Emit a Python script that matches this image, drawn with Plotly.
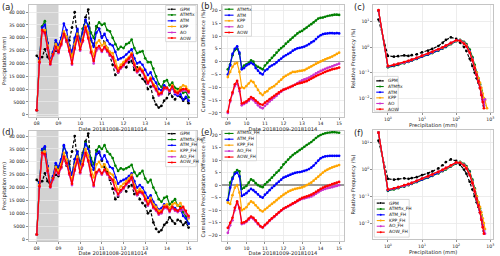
import plotly.graph_objects as go

W, H = 500, 256
FONT = "DejaVu Sans"

# ---------------- data ----------------
days_a = [8 + i / 8 for i in range(57)]   # 3-hourly, 08 -> 15
days_b = [9 + i / 8 for i in range(49)]   # 3-hourly, 09 -> 15
spinup = [8, 9]

# (a)/(d) precipitation, thousands of mm
gpm_k = [23, 21.8, 22.5, 25.5, 22.5, 21, 24, 25, 24.5, 28, 31.5, 28.5, 29, 34, 40, 30, 28, 33.5, 38, 41,
         29, 27, 34.5, 33.5, 30.5, 28, 26, 23, 19.5, 15.5, 16.5, 18.5, 20, 18.5, 20.5, 21, 17.5, 18.5, 15.5,
         14, 13, 10, 11, 6.5, 4, 2.8, 3.5, 5.5, 6.5, 8.5, 7, 6, 7.5, 7, 5.5, 6.5, 4.5]
atmfix_a = [1.8, 22, 34.5, 36.5, 28, 20.5, 24, 28, 26.5, 29, 31.5, 30.5, 27, 23.5, 29.5, 33, 28.5, 33.5, 36.5,
            35, 32, 30, 34.5, 36, 35, 35.5, 33, 32.5, 30, 27.5, 25.5, 26.5, 26, 27.5, 28, 29.3, 26, 24, 24.5,
            24.8, 22, 20.5, 20.5, 18, 15, 12, 10.8, 13, 13.5, 11.5, 12.5, 10.5, 10, 10.5, 8.5, 9, 6.8]
atm_a = [1.8, 22, 34, 35, 28, 21, 24.5, 29, 27, 30, 35.5, 33, 27, 24.5, 30, 33.5, 28, 32, 37, 34.5, 29.5, 26.5,
         32, 33.5, 30, 31.5, 29, 27.5, 27, 24.5, 21.5, 22, 22.5, 23.5, 24.5, 25.5, 22, 20, 20.5, 19.5, 17.5,
         15.5, 16.5, 14, 12.5, 10, 9.5, 11.5, 10.5, 9, 10.5, 8, 7.5, 8, 6, 7, 5.5]
kpp_a = [1.8, 21, 33, 33, 27, 20.5, 23.5, 27.5, 26, 28.5, 32.5, 30.5, 26, 22.5, 27.5, 31.5, 27, 30, 34.5, 32,
         26.5, 23, 28, 29, 27, 28, 26, 24.5, 24, 21, 18, 19.5, 20.5, 21.5, 22.5, 24, 20, 17.5, 18.5, 17.5, 15,
         13, 14.5, 12, 11, 8.5, 8.5, 10.5, 10.5, 9.5, 11.5, 9.5, 9, 10.5, 11.5, 11, 9.5]
ao_a = [1.8, 20, 32.5, 31.5, 25.5, 19.5, 23, 26, 24, 27, 31, 28.5, 24.5, 19.5, 25.5, 30, 25, 28.5, 33, 29.5, 24,
        20, 25, 26, 24.5, 26, 24.5, 23, 22, 18.5, 16.5, 18, 19, 20.5, 21.5, 23, 19, 16.5, 17.5, 16.5, 14, 12,
        13.5, 11, 9.5, 7.5, 8, 10, 10, 9, 10.5, 8.5, 8, 9, 9.5, 9.5, 8.5]
aow_a = [1.8, 20.5, 33, 32, 26, 19.8, 23.5, 26.5, 24.5, 27.5, 31.5, 29, 25, 20, 26, 30.5, 25.5, 29, 34, 30, 24.5,
         21, 26, 26.8, 25, 26.5, 25, 23.5, 22.5, 19, 17, 18.5, 19.5, 21, 22, 23.5, 19.5, 17, 18, 17, 14.5, 12.5,
         14, 11.5, 10, 8, 8.5, 10.5, 10.5, 9.5, 11, 9, 8.5, 9.5, 10, 10, 9]

atmfix_d = [1.8, 22, 34.5, 35.5, 28, 20.5, 24, 28.5, 27.5, 30.5, 36, 33.5, 28, 25, 31, 34, 29.5, 33, 37.5, 35.5,
            31.5, 29, 34.5, 36, 35, 36.5, 34, 33, 31.5, 28.5, 26.5, 27.5, 27, 27.5, 28, 28.8, 26, 24.5, 25.5,
            26.5, 23.5, 22, 23, 20, 18, 15.5, 14.5, 16, 16.5, 13.5, 14.5, 15.5, 13, 12.5, 10.5, 9, 6]
atm_d = [1.8, 22, 35, 36, 28.5, 21, 24.5, 29.5, 28, 31, 36.5, 33.5, 27.5, 25, 31, 34, 28.5, 32.5, 37, 35, 30, 27,
         33, 34, 31, 32.5, 30, 28, 27.5, 24, 21.5, 22.5, 23, 23.5, 24.5, 25.5, 22.5, 20, 21, 20, 18, 16, 17,
         14.5, 13, 11.5, 12, 13.5, 13, 11.5, 12.5, 12, 11, 11.5, 9, 8, 6]
kpp_d = [1.8, 21, 33.5, 34, 27.5, 20.5, 23.5, 28, 26.5, 29, 33.5, 31, 26, 23, 28.5, 32, 27.5, 30.5, 35, 32.5, 27,
         24, 29, 30, 28, 29, 27, 25.5, 25, 22, 19, 20.5, 21.5, 22.5, 23.5, 25, 21, 18.5, 19.5, 18.5, 16.5, 14.5,
         16, 13.5, 12.5, 11, 11, 13, 13.5, 12, 13.5, 14, 13, 14, 12, 10, 8]
ao_d = [1.8, 20, 33, 32.5, 26, 20, 23, 26.5, 25, 27.5, 31.5, 29, 25, 21, 26.5, 30.5, 25.5, 28.5, 33, 30, 24.5,
        20.5, 25.5, 26.5, 25, 26.5, 25, 23.5, 22.5, 19, 17, 18.5, 19.5, 21, 22, 23.5, 19.5, 17, 18, 17.5, 15, 13,
        14.5, 12, 11, 9.5, 10, 12, 12, 10.5, 12, 11, 10.5, 11, 11.5, 10, 8.5]
aow_d = [1.8, 20.5, 33.5, 33, 26.5, 20.3, 23.5, 27, 25.5, 28, 32, 29.5, 25.5, 21.5, 27, 31, 26, 29, 33.5, 30.5, 25,
         21, 26, 27, 25.5, 27, 25.5, 24, 23, 19.5, 17.5, 19, 20, 21.5, 22.5, 24, 20, 17.5, 18.5, 18, 15.5, 13.5,
         15, 12.5, 11.5, 10, 10.5, 12.5, 12.5, 11, 12.5, 11.5, 11, 12, 12.5, 11, 9]

# (b)/(e) cumulative difference, %
atmfix_b = [-3, -1, 2.5, 4.5, 5, 3, -2.5, -1.5, -1, -0.5, 0.5, 0, -1.5, -2, -2.5, -3, -1.5, -0.5, 0.5, 1.5, 2.5,
            3.5, 4.5, 5.3, 6, 7, 7.8, 8.6, 9.4, 10.2, 11, 11.6, 12, 12.7, 13.3, 14, 14.6, 15.3, 16, 16.8, 17.1,
            17.2, 17.5, 17.8, 18, 18.1, 18.3, 18.3, 18.2]
atm_b = [-5, -1.5, 3, 5, 6, 3.5, -3, -2.5, -1.5, -1, -0.5, -1, -2.5, -3.5, -4.5, -5, -3.5, -3, -2, -1.5, -1, -0.3,
         0.5, 1.2, 2, 2.5, 3, 3.5, 4.3, 4.8, 5.2, 5.4, 5.6, 5.9, 6.3, 6.8, 7.5, 8, 8.8, 9.7, 10.3, 10.7, 10.9, 11,
         11.1, 11.1, 11, 11.1, 11]
kpp_b = [-6, -4, -2, -0.8, -0.5, -4, -10, -10.3, -9.5, -8.5, -7.5, -8, -9.5, -11, -12.3, -13, -12, -11.5, -10.5,
         -10, -9.5, -8.7, -7.8, -7, -6, -5.5, -5, -4.5, -4, -4, -3.8, -3.6, -3.5, -3.3, -2.8, -2.3, -1.8, -1.3,
         -0.8, -0.3, 0.1, 0.5, 0.9, 1.3, 1.6, 2, 2.5, 3, 3.5]
ao_b = [-20, -15.5, -12.5, -9.5, -8.5, -11.5, -17, -16.5, -16, -15.3, -14.5, -15, -16, -17, -17.8, -18.2, -17.2,
        -16.5, -15.5, -14.8, -14, -13.3, -12.5, -11.7, -11, -10.7, -10.3, -9.9, -9.5, -9, -8.4, -7.8, -7.3, -6.9,
        -6.6, -6.2, -5.7, -5.1, -4.6, -4.1, -3.6, -3.2, -2.8, -2.4, -2.1, -1.8, -1.4, -1.1, -0.8]
aow_b = [-19.5, -15, -12, -8.8, -7.5, -10.5, -16.3, -16, -15.5, -14.7, -13.8, -14.3, -15.2, -16, -16.6, -16.8,
         -16, -15.4, -14.6, -14, -13.3, -12.6, -12, -11.4, -10.9, -10.6, -10.2, -9.8, -9.4, -9, -8.6, -8.4, -8.2,
         -7.9, -7.6, -7.1, -6.6, -6.1, -5.6, -5.2, -4.8, -4.4, -4, -3.6, -3.3, -3, -2.8, -2.6, -2.3]

atmfix_e = [-6, 1, 3, 5, 6, 5.5, -1.5, -1, -0.3, 1, 2.3, 1.8, 0.8, 0, -0.5, -0.8, 0.3, 1.2, 2, 3, 4, 5, 5.8, 7,
            8.3, 9.2, 10.2, 11.2, 12, 12.7, 13.3, 14, 14.6, 15.3, 16, 16.6, 17.2, 18, 18.8, 19.5, 20, 20.4, 20.7,
            20.9, 21, 21.1, 21.1, 21, 20.9]
atm_e = [-6, -1, 2.5, 4.5, 5, 3.5, -4.3, -3.8, -3.2, -2.3, -1.5, -2, -2.8, -3.7, -4.6, -5, -3.8, -3, -2, -1.1,
         -0.3, 0.6, 1.4, 2.2, 3, 3.4, 3.8, 4.2, 4.6, 4.9, 5.1, 5.2, 5.4, 5.7, 6, 6.4, 7, 7.8, 8.8, 9.8, 10.7, 11.2,
         11.5, 11.6, 11.7, 11.7, 11.7, 11.7, 11.7]
kpp_e = [-7, -7.5, -4, -1, 0, -3, -10, -9.5, -8.8, -7.5, -6.5, -7, -8, -9, -10, -10.5, -9.7, -9, -8.2, -7.5, -6.8,
         -6, -5.2, -4.5, -3.8, -3.2, -2.6, -2.2, -1.8, -1.5, -1.3, -1.1, -0.9, -0.5, 0, 0.5, 1, 1.8, 2.6, 3.4, 4.2,
         5, 5.7, 6.2, 6.7, 7.1, 7.4, 7.7, 8]
ao_e = [-19, -16, -14, -10, -7, -9.5, -15.5, -15.2, -14.6, -13.8, -13, -13.5, -14.5, -15.6, -16.5, -17, -16, -15.2,
        -14.2, -13.4, -12.7, -11.8, -11, -10.2, -9.5, -9, -8.5, -8, -7.5, -7, -6.4, -5.9, -5.5, -5.3, -5, -4.8,
        -4.5, -4, -3.4, -2.8, -2.2, -1.8, -1.5, -1.2, -1, -0.8, -0.5, -0.3, 0]
aow_e = [-17, -15, -13, -9, -6.5, -9, -15, -14.8, -14.3, -13.3, -12.5, -13, -14, -15.2, -16.3, -16.8, -15.8, -15,
         -14, -13.2, -12.4, -11.6, -10.8, -10, -9.3, -8.8, -8.3, -7.8, -7.3, -6.8, -6.2, -5.6, -5.1, -4.8, -4.5,
         -4.2, -3.8, -3.3, -2.7, -2.1, -1.5, -1, -0.6, -0.3, 0, 0.4, 0.7, 1, 1.3]

# (c)/(f) relative frequency (%) per precipitation bin (mm)
bins_mm = [0.53, 1, 1.5, 2, 3, 4, 5, 7, 10, 15, 20, 30, 40, 50, 70, 100, 130, 170, 200, 250, 300, 350, 400, 450,
           500, 550, 600, 650, 700, 800]
gpm_h = [12, 0.45, 0.42, 0.44, 0.47, 0.45, 0.48, 0.52, 0.62, 0.72, 0.85, 1.1, 1.45, 1.9, 2.4, 2.1, 1.5, 1.0, 0.7,
         0.35, 0.18, 0.1, 0.06, 0.04, 0.025, 0.015, None, None, None, None]
atmfix_c = [26, 0.16, 0.18, 0.2, 0.23, 0.26, 0.29, 0.34, 0.42, 0.5, 0.58, 0.72, 0.87, 1.0, 1.3, 1.7, 1.9, 1.6, 1.3,
            0.8, 0.4, 0.2, 0.1, 0.06, 0.035, 0.02, 0.011, 0.005, None, None]
atm_c = [26, 0.17, 0.19, 0.21, 0.24, 0.27, 0.3, 0.35, 0.43, 0.52, 0.6, 0.75, 0.9, 1.05, 1.35, 1.75, 1.85, 1.5, 1.2,
         0.7, 0.35, 0.17, 0.09, 0.05, 0.03, 0.017, 0.009, 0.005, None, None]
kpp_c = [27, 0.18, 0.2, 0.22, 0.25, 0.28, 0.31, 0.37, 0.45, 0.55, 0.63, 0.8, 0.95, 1.1, 1.4, 1.8, 1.8, 1.45, 1.15,
         0.65, 0.33, 0.17, 0.1, 0.06, 0.04, 0.025, 0.015, 0.01, 0.008, 0.004]
ao_c = [27, 0.18, 0.2, 0.22, 0.25, 0.28, 0.32, 0.38, 0.46, 0.56, 0.65, 0.82, 0.98, 1.15, 1.45, 1.85, 1.75, 1.35,
        1.05, 0.6, 0.3, 0.15, 0.08, 0.045, 0.025, 0.014, 0.008, 0.005, 0.009, None]
aow_c = [28, 0.18, 0.2, 0.22, 0.26, 0.29, 0.32, 0.38, 0.46, 0.56, 0.65, 0.82, 0.98, 1.15, 1.45, 1.85, 1.75, 1.35,
         1.05, 0.6, 0.3, 0.15, 0.08, 0.045, 0.025, 0.013, 0.007, 0.004, None, None]

atmfix_f = [24, 0.16, 0.18, 0.2, 0.23, 0.26, 0.29, 0.34, 0.42, 0.5, 0.58, 0.72, 0.87, 1.0, 1.3, 1.7, 1.95, 1.65,
            1.35, 0.85, 0.42, 0.2, 0.1, 0.06, 0.035, 0.02, 0.01, 0.005, None, None]
atm_f = [24, 0.17, 0.19, 0.21, 0.24, 0.27, 0.3, 0.35, 0.43, 0.52, 0.6, 0.75, 0.9, 1.05, 1.35, 1.75, 1.85, 1.55,
         1.25, 0.75, 0.37, 0.18, 0.09, 0.05, 0.03, 0.017, 0.009, 0.005, None, None]
kpp_f = [24, 0.18, 0.2, 0.22, 0.25, 0.28, 0.31, 0.37, 0.45, 0.55, 0.63, 0.8, 0.95, 1.1, 1.4, 1.8, 1.85, 1.5, 1.2,
         0.7, 0.35, 0.18, 0.1, 0.06, 0.04, 0.025, 0.015, 0.01, 0.006, None]
ao_f = [24, 0.18, 0.2, 0.22, 0.25, 0.28, 0.32, 0.38, 0.46, 0.56, 0.65, 0.82, 0.98, 1.15, 1.45, 1.85, 1.8, 1.4, 1.1,
        0.62, 0.31, 0.15, 0.08, 0.045, 0.025, 0.014, 0.008, 0.005, 0.004, None]
aow_f = [24, 0.18, 0.2, 0.22, 0.26, 0.29, 0.32, 0.38, 0.46, 0.56, 0.65, 0.82, 0.98, 1.15, 1.45, 1.85, 1.8, 1.4, 1.1,
         0.62, 0.31, 0.15, 0.08, 0.045, 0.025, 0.013, 0.007, 0.004, None, None]

names_a = ["GPM", "ATMfix", "ATM", "KPP", "AO", "AOW"]
names_d = ["GPM", "ATMfix_FH", "ATM_FH", "KPP_FH", "AO_FH", "AOW_FH"]
prec_ticks = [0, 5000, 10000, 15000, 20000, 25000, 30000, 35000, 40000]
prec_ticktext = ["0", "5000", "10 000", "15 000", "20 000", "25 000", "30 000", "35 000", "40 000"]
day_ticks = [8, 9, 10, 11, 12, 13, 14, 15]
day_text = ["08", "09", "10", "11", "12", "13", "14", "15"]

COLORS = ["black", "#008000", "#0000ff", "#ffa500", "#cc33cc", "#ff0000"]
DASHES = ["3px,2px", None, None, None, None, None]

# ---------------- helpers ----------------
def X(p):
    return p / W

def Y(p):
    return 1 - p / H

fig = go.Figure()

def add_series(xs, ys, color, dash, ax, scale=1.0):
    yy = [None if v is None else v * scale for v in ys]
    fig.add_trace(go.Scatter(
        x=xs, y=yy, mode="lines+markers",
        line=dict(color=color, width=1.2, dash=dash),
        marker=dict(size=2.7, color=color),
        xaxis="x" + ax, yaxis="y" + ax, showlegend=False, hoverinfo="skip"))

for arr, c, d in zip([gpm_k, atmfix_a, atm_a, kpp_a, ao_a, aow_a], COLORS, DASHES):
    add_series(days_a, arr, c, d, "", 1000)
for arr, c, d in zip([gpm_k, atmfix_d, atm_d, kpp_d, ao_d, aow_d], COLORS, DASHES):
    add_series(days_a, arr, c, d, "4", 1000)
for arr, c in zip([atmfix_b, atm_b, kpp_b, ao_b, aow_b], COLORS[1:]):
    add_series(days_b, arr, c, None, "2")
for arr, c in zip([atmfix_e, atm_e, kpp_e, ao_e, aow_e], COLORS[1:]):
    add_series(days_b, arr, c, None, "5")
for arr, c, d in zip([gpm_h, atmfix_c, atm_c, kpp_c, ao_c, aow_c], COLORS, DASHES):
    add_series(bins_mm, arr, c, d, "3")
for arr, c, d in zip([gpm_h, atmfix_f, atm_f, kpp_f, ao_f, aow_f], COLORS, DASHES):
    add_series(bins_mm, arr, c, d, "6")

# ---------------- axes ----------------
def base_axis(**kw):
    d = dict(showline=True, mirror=True, linecolor="#c4c4c4", linewidth=1,
             showgrid=True, gridcolor="#e8e8e8", gridwidth=0.8,
             ticks="outside", ticklen=2, tickwidth=0.6, tickcolor="#444",
             tickfont=dict(family=FONT, size=4.6, color="#222"),
             zeroline=False)
    d.update(kw)
    return d

TF = dict(family=FONT, size=5.2, color="#222")

frames = {
    "": (29, 197, 5, 117.5),
    "2": (222, 345, 5, 117.5),
    "3": (374, 494, 5, 113),
    "4": (29, 197, 132, 243),
    "5": (222, 345, 132, 243),
    "6": (374, 494, 131, 241),
}
lay = {}
for k, (x0, x1, yt, yb) in frames.items():
    lay["xaxis" + k] = dict(domain=[X(x0), X(x1)], anchor="y" + k)
    lay["yaxis" + k] = dict(domain=[Y(yb), Y(yt)], anchor="x" + k)

for n, xt, rng_y in [("", "Date 20181008-20181014", [-700, 42800]),
                     ("4", "Date 20181008-20181014", [-770, 42000])]:
    lay["xaxis" + n].update(base_axis(range=[7.64, 15.37], tickvals=day_ticks, ticktext=day_text,
                                      title=dict(text=xt, font=TF, standoff=1.5)))
    lay["yaxis" + n].update(base_axis(range=rng_y, tickvals=prec_ticks, ticktext=prec_ticktext,
                                      title=dict(text="Precipitation (mm)", font=TF, standoff=2)))

for n, rng_y in [("2", [-21.4, 22.1]), ("5", [-22.3, 21.6])]:
    lay["xaxis" + n].update(base_axis(range=[8.66, 15.28], tickvals=day_ticks[1:], ticktext=day_text[1:],
                                      title=dict(text="Date 20181009-20181014", font=TF, standoff=1.5)))
    lay["yaxis" + n].update(base_axis(range=rng_y, tickvals=[-20, -15, -10, -5, 0, 5, 10, 15, 20],
                                      zeroline=True, zerolinecolor="#9a9a9a", zerolinewidth=1.4,
                                      title=dict(text="Cumulative Precipitation Difference (%)", font=TF, standoff=2)))

for n, rng_y in [("3", [-2.55, 1.65]), ("6", [-2.6, 1.48])]:
    lay["xaxis" + n].update(base_axis(type="log", range=[-0.43, 3.08], tickvals=[1, 10, 100, 1000],
                                      ticktext=["10<sup>0</sup>", "10<sup>1</sup>", "10<sup>2</sup>", "10<sup>3</sup>"],
                                      title=dict(text="Precipitation (mm)", font=TF, standoff=1)))
    lay["yaxis" + n].update(base_axis(type="log", range=rng_y, tickvals=[0.01, 0.1, 1, 10],
                                      ticktext=["10<sup>\u22122</sup>", "10<sup>\u22121</sup>", "10<sup>0</sup>", "10<sup>1</sup>"],
                                      title=dict(text="Relative Frequency (%)", font=TF, standoff=2)))

shapes = []
annotations = []

for n in ["", "4"]:
    shapes.append(dict(type="rect", xref="x" + n, yref=("y" + n) + " domain",
                       x0=spinup[0], x1=spinup[1], y0=0, y1=1,
                       fillcolor="#d2d2d2", line=dict(width=0), layer="below"))

for lbl, xp, yp in [("(a)", 1, 7), ("(b)", 200, 6), ("(c)", 354, 7.5),
                    ("(d)", 1, 133), ("(e)", 200, 133), ("(f)", 354, 134.5)]:
    annotations.append(dict(text=lbl, x=X(xp), y=Y(yp), xref="paper", yref="paper",
                            xanchor="left", yanchor="middle", showarrow=False, borderpad=0,
                            font=dict(family=FONT, size=8.2, color="#222")))

def legend(names, colors, dashes, box, lx, tx, ys):
    bx0, by0, bx1, by1 = box
    shapes.append(dict(type="rect", xref="paper", yref="paper", x0=X(bx0), x1=X(bx1), y0=Y(by1), y1=Y(by0),
                       fillcolor="rgba(255,255,255,0.85)", line=dict(color="#d0d0d0", width=0.8), layer="above"))
    for nm, c, d, yy in zip(names, colors, dashes, ys):
        shapes.append(dict(type="line", xref="paper", yref="paper", x0=X(lx[0]), x1=X(lx[1]), y0=Y(yy), y1=Y(yy),
                           line=dict(color=c, width=1.1, dash=d if d else "solid"), layer="above"))
        xm = (lx[0] + lx[1]) / 2
        shapes.append(dict(type="circle", xref="paper", yref="paper", x0=X(xm - 1), x1=X(xm + 1),
                           y0=Y(yy + 1), y1=Y(yy - 1), fillcolor=c, line=dict(width=0), layer="above"))
        annotations.append(dict(text=nm, x=X(tx), y=Y(yy), xref="paper", yref="paper", xanchor="left",
                                yanchor="middle", showarrow=False, font=dict(family=FONT, size=4.4, color="#222")))

legend(names_a, COLORS, DASHES, (166, 5.5, 196.5, 42), (168, 176.5), 178, [9.3, 15, 21, 26.7, 32.7, 38.3])
legend(names_a[1:], COLORS[1:], DASHES[1:], (223, 5.5, 252, 36.5), (225, 234), 235.7, [9.3, 15.3, 21, 27, 32.7])
legend(names_a, COLORS, DASHES, (375, 77, 399, 112), (377, 384.5), 386.5, [81.5, 87.2, 92.9, 98.6, 104.3, 110])
legend(names_d, COLORS, DASHES, (166, 131.5, 196.5, 168), (168, 176.5), 178.3, [134.7, 140.7, 146.5, 152.3, 158, 163.7])
legend(names_d[1:], COLORS[1:], DASHES[1:], (223, 131.5, 257, 162), (225, 234), 235.7, [134.5, 140.3, 146.3, 152.3, 158.3])
legend(names_d, COLORS, DASHES, (375, 201, 410, 239), (377.5, 385.5), 387.5, [204.7, 210.7, 216.5, 222.3, 228, 234])

fig.update_layout(
    width=W, height=H, margin=dict(l=0, r=0, t=0, b=0),
    paper_bgcolor="white", plot_bgcolor="white",
    font=dict(family=FONT, size=5, color="#222"),
    showlegend=False, shapes=shapes, annotations=annotations, **lay)

fig.write_html("out.html", config={"displayModeBar": False, "staticPlot": True},
               post_script="document.body.style.margin='0';document.body.style.overflow='hidden';")
